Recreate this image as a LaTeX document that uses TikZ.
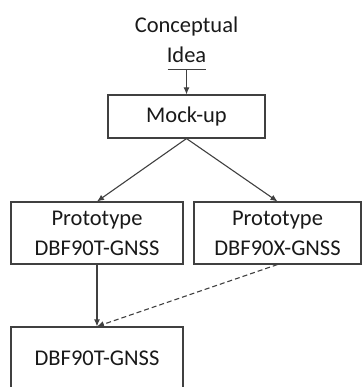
\documentclass[tikz,border=0pt]{standalone}
\usepackage{fontspec}
\setmainfont{Carlito}
\usetikzlibrary{arrows.meta}
\begin{document}
\begin{tikzpicture}[x=1pt,y=-1pt,
  every node/.style={font=\fontsize{22.5}{30}\selectfont, text=black!90},
  boxnode/.style={draw=black!75, line width=1.1pt, align=center, inner sep=0pt},
  conn/.style={draw=black!75, line width=1.1pt, -{Latex[length=7pt,width=6pt]}},
  dconn/.style={conn, dash pattern=on 5pt off 3pt}
]
\useasboundingbox (0,0) rectangle (363,387);
\clip (0,0) rectangle (363,387);
\node[align=center, anchor=south, inner sep=0pt, inner ysep=6pt] (idea) at (186.5,69) {Conceptual\\Idea};
\node[boxnode, minimum width=157pt, minimum height=43pt] (mock) at (186.5,116.5) {Mock-up};
\node[boxnode, minimum width=172pt, minimum height=62pt] (p1) at (97,233) {Prototype\\DBF90T-GNSS};
\node[boxnode, minimum width=167pt, minimum height=62pt] (p2) at (277.5,233) {Prototype\\DBF90X-GNSS};
\node[boxnode, minimum width=172pt, minimum height=62pt] (fin) at (97,358) {DBF90T-GNSS};
\draw[draw=black!75, line width=1.1pt, {Bar[width=38pt]}-{Latex[length=7pt,width=6pt]}] (idea.south) -- (mock.north);
\draw[conn] (mock.south) -- (p1.north);
\draw[conn] (mock.south) -- (p2.north);
\draw[conn] (p1.south) -- (fin.north);
\draw[dconn] (p2.south) -- (fin.north);
\end{tikzpicture}
\end{document}
